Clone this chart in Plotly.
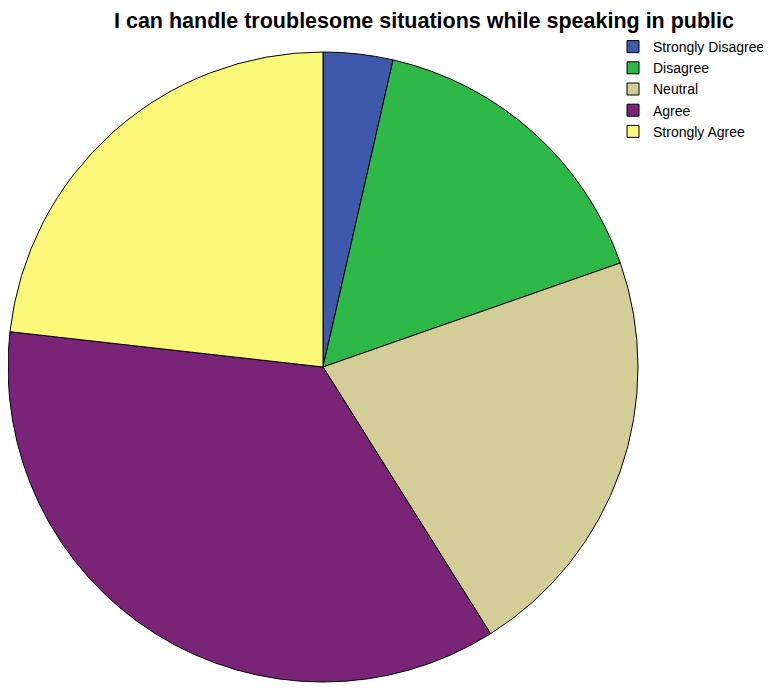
import plotly.graph_objects as go

categories = ["Strongly Disagree", "Disagree", "Neutral", "Agree", "Strongly Agree"]
counts = [2, 9, 12, 20, 13]
colors = ["#3E58AC", "#2EB848", "#D3CE97", "#7A2477", "#FBF778"]

W, H = 771, 696
# page body adds an 8px offset; positions below are in figure pixels
cx, cy, r = 315, 359, 315

fig = go.Figure(go.Pie(
    labels=categories,
    values=counts,
    sort=False,
    direction="clockwise",
    rotation=0,
    marker=dict(colors=colors, line=dict(color="black", width=1)),
    textinfo="none",
    hoverinfo="label+value+percent",
    domain=dict(x=[max(0, (cx - r) / W), (cx + r) / W],
                y=[max(0, (H - cy - r) / H), min(1, (H - cy + r) / H)]),
))

fig.update_layout(
    width=W, height=H,
    margin=dict(l=0, r=0, t=0, b=0),
    paper_bgcolor="white",
    plot_bgcolor="white",
    title=dict(
        text="<b>I can handle troublesome situations while speaking in public</b>",
        x=416 / W, xanchor="center", y=1 - 12 / H, yanchor="middle",
        font=dict(family="Liberation Sans, Arial", size=21.5, color="black"),
    ),
    legend=dict(
        x=605 / W, xanchor="left", y=1 - 23 / H, yanchor="top",
        font=dict(family="Liberation Sans, Arial", size=14, color="black"),
        bgcolor="rgba(0,0,0,0)",
        itemwidth=30,
        tracegroupgap=0,
    ),
)

fig.write_html("out.html")
